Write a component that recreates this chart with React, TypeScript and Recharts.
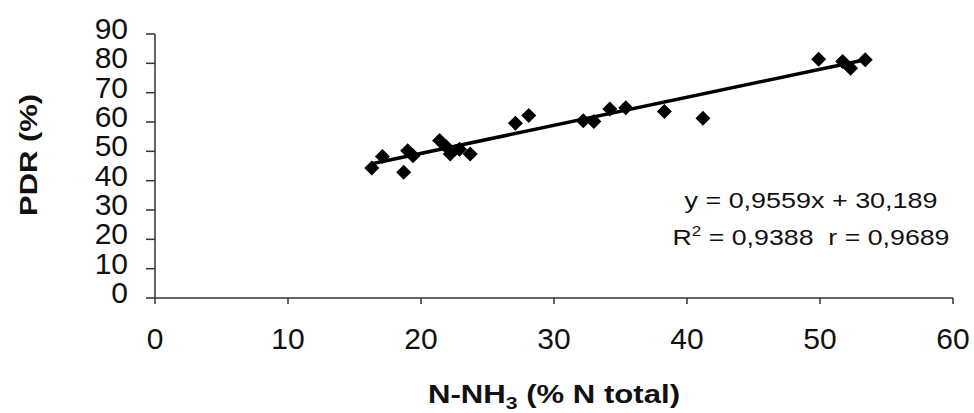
import { Scatter, ScatterChart, XAxis, YAxis } from "recharts";

const nh3 = [16.3, 17.1, 18.7, 19.0, 19.4, 21.4, 21.9, 22.2, 22.9, 23.7, 27.1, 28.1, 32.2, 33.0, 34.2, 35.4, 38.3, 41.2, 49.9, 51.7, 52.3, 53.4];
const pdr = [44.3, 48.2, 42.9, 50.2, 48.5, 53.7, 51.6, 49.1, 50.7, 49.1, 59.6, 62.2, 60.4, 60.2, 64.4, 64.9, 63.6, 61.3, 81.4, 80.6, 78.3, 81.2];
const xTicks = [0, 10, 20, 30, 40, 50, 60];
const yTicks = [0, 10, 20, 30, 40, 50, 60, 70, 80, 90];
const slope = 0.9559;
const intercept = 30.189;
const eqLine1 = "y = 0,9559x + 30,189";
const r2Text = " = 0,9388  r = 0,9689";

const points = nh3.map((x, i) => ({ x, y: pdr[i] }));
const xMin = Math.min(...nh3);
const xMax = Math.max(...nh3);
const trend = [xMin, xMax].map((x) => ({ x, y: slope * x + intercept }));

const FONT = "'Liberation Sans', Arial, sans-serif";
const INK = "#111";

const Diamond = (props: any) => {
  const { cx, cy } = props;
  const r = 7.5;
  return <polygon points={`${cx},${cy - r} ${cx + r},${cy} ${cx},${cy + r} ${cx - r},${cy}`} fill="#000" />;
};

const YTick = ({ x, y, payload }: any) => (
  <text x={x} y={y + 5} textAnchor="end" fontSize={30} fill={INK} fontFamily={FONT}>
    {payload.value}
  </text>
);

const XTick = ({ x, y, payload }: any) => (
  <text x={x} y={y + 41} textAnchor="middle" fontSize={30} fill={INK} fontFamily={FONT}>
    {payload.value}
  </text>
);

export default function App() {
  return (
    <div style={{ position: "absolute", left: 0, top: 0, width: 974, height: 413, background: "#fff" }}>
      <ScatterChart width={974} height={413} margin={{ top: 34, right: 21, bottom: 0, left: 0 }}>
        <XAxis
          type="number"
          dataKey="x"
          domain={[0, 60]}
          ticks={xTicks}
          tickSize={6}
          tickMargin={4}
          height={115}
          stroke="#333"
          strokeWidth={1.5}
          tick={<XTick />}
          label={{
            content: ({ viewBox }: any) => (
              <text
                x={viewBox.x + viewBox.width / 2}
                y={viewBox.y + 105}
                textAnchor="middle"
                fontSize={25}
                fontWeight="bold"
                fill={INK}
                fontFamily={FONT}
                textLength={252}
                lengthAdjust="spacingAndGlyphs"
              >
                N-NH<tspan dy={6} fontSize={17}>3</tspan>
                <tspan dy={-6}> (% N total)</tspan>
              </text>
            ),
          }}
        />
        <YAxis
          type="number"
          dataKey="y"
          domain={[0, 90]}
          ticks={yTicks}
          tickSize={9}
          tickMargin={18}
          width={155}
          stroke="#333"
          strokeWidth={1.5}
          tick={<YTick />}
          label={{
            content: ({ viewBox }: any) => {
              const cy = viewBox.y + viewBox.height / 2 - 11;
              return (
                <text
                  x={37}
                  y={cy}
                  textAnchor="middle"
                  fontSize={23}
                  fontWeight="bold"
                  fill={INK}
                  fontFamily={FONT}
                  textLength={122}
                  lengthAdjust="spacingAndGlyphs"
                  transform={`rotate(-90, 37, ${cy})`}
                >
                  PDR (%)
                </text>
              );
            },
          }}
        />
        <Scatter data={trend} line={{ stroke: "#000", strokeWidth: 3.5 }} shape={() => <g />} isAnimationActive={false} />
        <Scatter data={points} shape={<Diamond />} isAnimationActive={false} />
        <text x={811} y={208} textAnchor="middle" fontSize={22} fill={INK} fontFamily={FONT} textLength={253} lengthAdjust="spacingAndGlyphs">
          {eqLine1}
        </text>
        <text
          x={811}
          y={245}
          textAnchor="middle"
          fontSize={22}
          fill={INK}
          fontFamily={FONT}
          textLength={277}
          lengthAdjust="spacingAndGlyphs"
          style={{ whiteSpace: "pre" }}
        >
          R<tspan dy={-9} fontSize={14}>2</tspan>
          <tspan dy={9}>{r2Text}</tspan>
        </text>
      </ScatterChart>
    </div>
  );
}
